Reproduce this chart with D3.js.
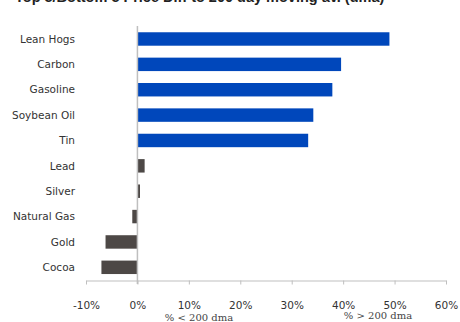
<!doctype html>
<html lang="en">
<head>
    <meta charset="UTF-8">
    <title>Top 5/Bottom 5 Price Diff to 200 dma</title>
    <script src="https://cdnjs.cloudflare.com/ajax/libs/d3/7.8.5/d3.min.js"></script>
    <style>
        html, body {
            margin: 0;
            padding: 0;
            background: #ffffff;
            overflow: hidden;
        }
        .lbl text, .tick text {
            font-family: "DejaVu Sans", sans-serif;
            font-size: 10.5px;
            fill: #333333;
        }
    </style>
</head>
<body>
<svg id="chart" width="460" height="322"></svg>
<script>
    // values (% difference to 200 day moving average)
    const commodities = ["Lean Hogs", "Carbon", "Gasoline", "Soybean Oil", "Tin",
                         "Lead", "Silver", "Natural Gas", "Gold", "Cocoa"];
    const pctDiff = [49.0, 39.6, 37.9, 34.2, 33.2, 1.4, 0.5, -1.0, -6.2, -7.0];
    const tickValues = [-10, 0, 10, 20, 30, 40, 50, 60];
    const bandLabels = ["% < 200 dma", "% > 200 dma"];

    const svg = d3.select("#chart");
    const blue = "#0047bb";
    const grey = "#4d4846";

    const x = d3.scaleLinear().domain([-10, 60]).range([86, 446]);
    const y = d3.scaleBand().domain(commodities).range([26.3, 280])
        .paddingInner(0.47).paddingOuter(0.235);

    // title (cut off at the top edge as in the source)
    svg.append("text")
        .attr("x", 15)
        .attr("y", 2)
        .attr("font-family", "Liberation Sans, Arial, sans-serif")
        .attr("font-weight", "bold")
        .attr("font-size", 14.5)
        .attr("fill", "#222")
        .text("Top 5/Bottom 5 Price Diff to 200 day moving av. (dma)");

    // bars
    svg.append("g")
        .selectAll("rect")
        .data(pctDiff)
        .enter().append("rect")
        .attr("x", d => x(Math.min(0, d)))
        .attr("y", (d, i) => y(commodities[i]))
        .attr("width", d => Math.abs(x(d) - x(0)))
        .attr("height", y.bandwidth())
        .attr("fill", (d, i) => i < 5 ? blue : grey);

    // x axis
    const xAxis = svg.append("g")
        .attr("transform", "translate(0,280.5)")
        .call(d3.axisBottom(x).tickValues(tickValues)
            .tickFormat(d => d + "%").tickSize(4).tickSizeOuter(0).tickPadding(17));
    xAxis.select(".domain").attr("stroke", "#bfbfbf");
    xAxis.selectAll(".tick line").attr("stroke", "#bfbfbf");

    // category labels + zero line
    const yAxis = svg.append("g")
        .attr("class", "lbl");
    yAxis.selectAll("text")
        .data(commodities)
        .enter().append("text")
        .attr("x", 75)
        .attr("y", d => y(d) + y.bandwidth() / 2)
        .attr("dy", "0.35em")
        .attr("text-anchor", "end")
        .text(d => d);
    svg.append("line")
        .attr("x1", x(0)).attr("x2", x(0))
        .attr("y1", 26).attr("y2", 284)
        .attr("stroke", "#bfbfbf")
        .attr("stroke-width", 1.5);

    // under-axis notes
    svg.append("g")
        .selectAll("text")
        .data(bandLabels)
        .enter().append("text")
        .attr("x", (d, i) => i === 0 ? 199 : 378)
        .attr("y", (d, i) => i === 0 ? 321 : 319)
        .attr("text-anchor", "middle")
        .attr("font-family", "DejaVu Serif, Liberation Serif, serif")
        .attr("font-size", 10)
        .attr("fill", "#444")
        .text(d => d);
</script>
</body>
</html>
